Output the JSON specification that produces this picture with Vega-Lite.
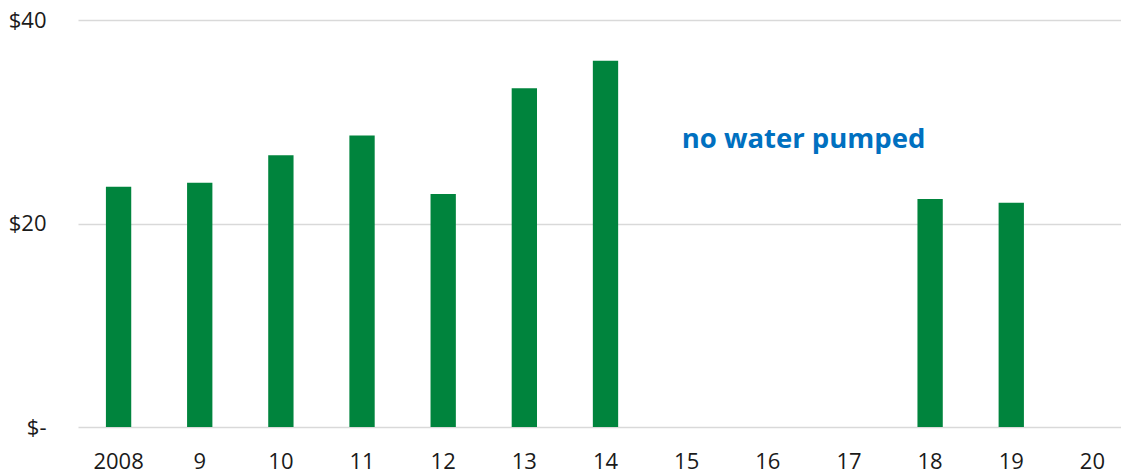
{
  "$schema": "https://vega.github.io/schema/vega-lite/v6.json",
  "width": 1055,
  "height": 407,
  "autosize": {"type": "none"},
  "padding": {"left": 78, "top": 20, "right": 0, "bottom": 47},
  "background": "white",
  "config": {
    "view": {"stroke": null},
    "font": "Open Sans"
  },
  "datasets": {
    "costs": [
      {"year": "2008", "cost": 23.6},
      {"year": "9", "cost": 24.0},
      {"year": "10", "cost": 26.7},
      {"year": "11", "cost": 28.65},
      {"year": "12", "cost": 22.9},
      {"year": "13", "cost": 33.3},
      {"year": "14", "cost": 36.0},
      {"year": "15", "cost": null},
      {"year": "16", "cost": null},
      {"year": "17", "cost": null},
      {"year": "18", "cost": 22.4},
      {"year": "19", "cost": 22.05},
      {"year": "20", "cost": null}
    ],
    "notes": [
      {"year": "15", "cost": 27.4, "label": "no water pumped"}
    ]
  },
  "layer": [
    {
      "data": {"name": "costs"},
      "mark": {"type": "bar", "color": "#00843D"},
      "encoding": {
        "x": {
          "field": "year",
          "type": "nominal",
          "sort": null,
          "scale": {
            "domain": ["2008", "9", "10", "11", "12", "13", "14", "15", "16", "17", "18", "19", "20"],
            "paddingInner": 0.688,
            "paddingOuter": 0.344
          },
          "axis": {
            "title": null,
            "labelAngle": 0,
            "ticks": false,
            "domain": false,
            "grid": false,
            "labelFontSize": 22,
            "labelColor": "#1a1a1a",
            "labelPadding": 24
          }
        },
        "y": {
          "field": "cost",
          "type": "quantitative",
          "scale": {"domain": [0, 40], "nice": false},
          "axis": {
            "title": null,
            "values": [0, 20, 40],
            "labelExpr": "datum.value == 0 ? '$-' : '$' + datum.value",
            "ticks": false,
            "domain": false,
            "grid": true,
            "gridColor": "#d9d9d9",
            "gridWidth": 1.5,
            "labelFontSize": 22,
            "labelColor": "#1a1a1a",
            "labelPadding": 32
          }
        }
      }
    },
    {
      "data": {"name": "notes"},
      "mark": {
        "type": "text",
        "align": "left",
        "baseline": "alphabetic",
        "dx": -5,
        "fontSize": 27.5,
        "fontWeight": "bold",
        "color": "#0070C0"
      },
      "encoding": {
        "x": {"field": "year", "type": "nominal"},
        "y": {"field": "cost", "type": "quantitative"},
        "text": {"field": "label"}
      }
    }
  ]
}
